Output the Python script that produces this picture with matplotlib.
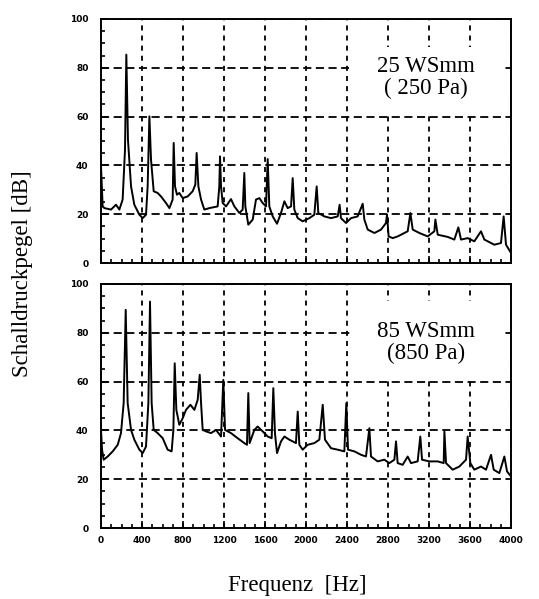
import matplotlib
matplotlib.use("Agg")
import matplotlib.pyplot as plt
from matplotlib.ticker import MultipleLocator
from matplotlib.patches import Rectangle

# ---- data ----
f_top = [0, 16, 33, 98, 146, 179, 211, 234, 247, 263,
         293, 325, 374, 407, 439, 455, 472, 488, 514, 553,
         585, 634, 667, 699, 709, 722, 741, 764, 797, 846,
         894, 920, 933, 950, 976, 1008, 1057, 1138, 1154, 1161,
         1171, 1187, 1220, 1268, 1301, 1350, 1382, 1398, 1408, 1437,
         1480, 1512, 1545, 1577, 1610, 1626, 1642, 1675, 1717, 1756,
         1789, 1821, 1854, 1870, 1886, 1919, 1967, 2033, 2081, 2104,
         2120, 2179, 2244, 2309, 2328, 2341, 2390, 2439, 2504, 2553,
         2569, 2602, 2667, 2732, 2780, 2790, 2806, 2846, 2894, 2959,
         2992, 3018, 3041, 3106, 3187, 3252, 3262, 3285, 3382, 3447,
         3486, 3512, 3577, 3642, 3707, 3740, 3837, 3902, 3928, 3951,
         4000]
db_top = [39.6, 23.2, 22.5, 21.9, 23.9, 21.9, 26.0, 46.4, 85.4, 50.5,
          31.4, 23.9, 19.8, 18.4, 19.8, 31.4, 60.1, 42.3, 29.4, 28.7,
          27.3, 24.6, 22.5, 26.0, 49.2, 31.4, 28.0, 28.7, 26.6, 27.3,
          29.4, 32.1, 45.1, 31.4, 26.0, 21.9, 22.5, 23.2, 31.4, 43.7,
          31.4, 24.6, 23.2, 26.2, 23.2, 20.5, 21.9, 36.9, 23.2, 15.7,
          17.8, 26.0, 26.6, 24.6, 23.2, 42.6, 23.2, 19.1, 16.1, 20.5,
          25.3, 22.5, 23.2, 34.8, 21.9, 18.4, 17.1, 18.4, 19.8, 31.4,
          20.5, 19.1, 18.4, 19.1, 23.9, 18.4, 16.4, 18.4, 19.1, 24.3,
          17.8, 13.7, 12.3, 13.7, 16.4, 19.8, 10.9, 10.2, 10.9, 12.3,
          13.0, 20.5, 13.7, 12.3, 10.9, 13.0, 17.8, 11.6, 10.7, 9.6,
          14.6, 9.6, 10.2, 8.9, 13.0, 9.6, 7.5, 8.2, 19.1, 7.5,
          4.1]

f_bot = [0, 10, 26, 65, 114, 163, 195, 221, 241, 260,
         293, 325, 374, 407, 439, 462, 478, 494, 514, 553,
         602, 650, 689, 706, 719, 735, 764, 797, 829, 872,
         911, 943, 963, 976, 992, 1024, 1073, 1122, 1171, 1193,
         1210, 1268, 1333, 1398, 1424, 1437, 1450, 1496, 1528, 1577,
         1626, 1665, 1681, 1697, 1717, 1756, 1789, 1837, 1902, 1919,
         1935, 1967, 2016, 2081, 2130, 2163, 2185, 2244, 2309, 2374,
         2393, 2410, 2472, 2537, 2585, 2618, 2634, 2699, 2764, 2813,
         2862, 2878, 2894, 2943, 2992, 3024, 3089, 3115, 3132, 3203,
         3285, 3343, 3350, 3366, 3431, 3496, 3561, 3577, 3603, 3642,
         3707, 3756, 3805, 3831, 3886, 3935, 3961, 4000]
db_bot = [40.2, 32.1, 28.0, 29.3, 31.4, 34.1, 38.9, 51.2, 89.4, 51.2,
          40.2, 36.2, 32.1, 30.7, 33.4, 51.2, 92.8, 51.2, 40.2, 38.9,
          36.8, 32.1, 31.4, 40.2, 67.5, 48.4, 42.3, 45.0, 48.4, 50.5,
          48.4, 52.5, 62.8, 51.2, 40.2, 39.6, 38.9, 40.2, 37.5, 60.7,
          40.2, 38.9, 36.8, 34.8, 34.1, 55.3, 34.8, 40.2, 41.6, 39.6,
          37.5, 36.8, 57.3, 38.9, 30.7, 35.5, 37.5, 36.2, 34.8, 47.7,
          34.1, 32.1, 34.1, 34.8, 36.2, 50.5, 36.2, 32.7, 32.1, 31.4,
          51.2, 32.1, 31.4, 30.0, 29.3, 40.9, 29.3, 27.3, 28.0, 26.6,
          28.0, 35.5, 26.6, 25.9, 29.3, 26.6, 27.3, 37.5, 28.0, 27.3,
          27.3, 26.6, 39.6, 26.6, 23.9, 25.2, 28.0, 37.5, 26.6, 23.9,
          25.2, 23.9, 30.0, 23.9, 22.5, 29.3, 23.2, 21.1]

x_ticks = [0, 400, 800, 1200, 1600, 2000, 2400, 2800, 3200, 3600, 4000]
y_ticks = [0, 20, 40, 60, 80, 100]
label_top = "25 WSmm\n( 250 Pa)"
label_bot = "85 WSmm\n(850 Pa)"

serif = ["Liberation Serif", "DejaVu Serif"]

fig = plt.figure(figsize=(5.39, 5.99), dpi=100)
ax1 = fig.add_axes([0.1874, 0.5609, 0.7607, 0.4074])
ax2 = fig.add_axes([0.1874, 0.1185, 0.7607, 0.4074])

panels = [(ax1, f_top, db_top, label_top, (2415, 61.5, 1485, 27.0)),
          (ax2, f_bot, db_bot, label_bot, (2435, 61.5, 1465, 31.5))]

for ax, f, db, lab, box in panels:
    ax.plot(f, db, color="black", lw=1.4, zorder=3)
    ax.set_xlim(0, 4000)
    ax.set_ylim(0, 100)
    ax.set_xticks(x_ticks)
    ax.set_yticks(y_ticks)
    ax.xaxis.set_minor_locator(MultipleLocator(100))
    ax.yaxis.set_minor_locator(MultipleLocator(5))
    ax.tick_params(which="both", direction="in", top=False, right=False, width=1.2)
    ax.tick_params(which="major", length=5)
    ax.tick_params(which="minor", length=3)
    ax.tick_params(axis="y", which="major", pad=9, labelsize=6.5)
    ax.tick_params(axis="x", which="major", pad=6, labelsize=6.5)
    for t in ax.get_xticklabels() + ax.get_yticklabels():
        t.set_fontweight("heavy")
    ax.xaxis.grid(True, which="major", color="black", lw=1.3, linestyle=(0, (2.8, 2.8)))
    ax.yaxis.grid(True, which="major", color="black", lw=1.3, linestyle=(0, (4.5, 2.5)))
    ax.set_axisbelow(False)
    for s in ax.spines.values():
        s.set_linewidth(1.4)
        s.set_zorder(4)
    ax.add_patch(Rectangle((box[0], box[1]), box[2], box[3], facecolor="white",
                           edgecolor="none", zorder=2.8))
    ax.text(3170, 76, lab, ha="center", va="center", family=serif, fontsize=16.5,
            linespacing=1.05, zorder=5)

ax1.tick_params(axis="x", labelbottom=False)

fig.text(0.041, 0.543, "Schalldruckpegel [dB]", rotation=90, ha="center", va="center",
         family=serif, fontsize=16.5)
fig.text(0.551, 0.023, "Frequenz  [Hz]", ha="center", va="center", family=serif,
         fontsize=16.5)

fig.savefig("out.png", dpi=100)
